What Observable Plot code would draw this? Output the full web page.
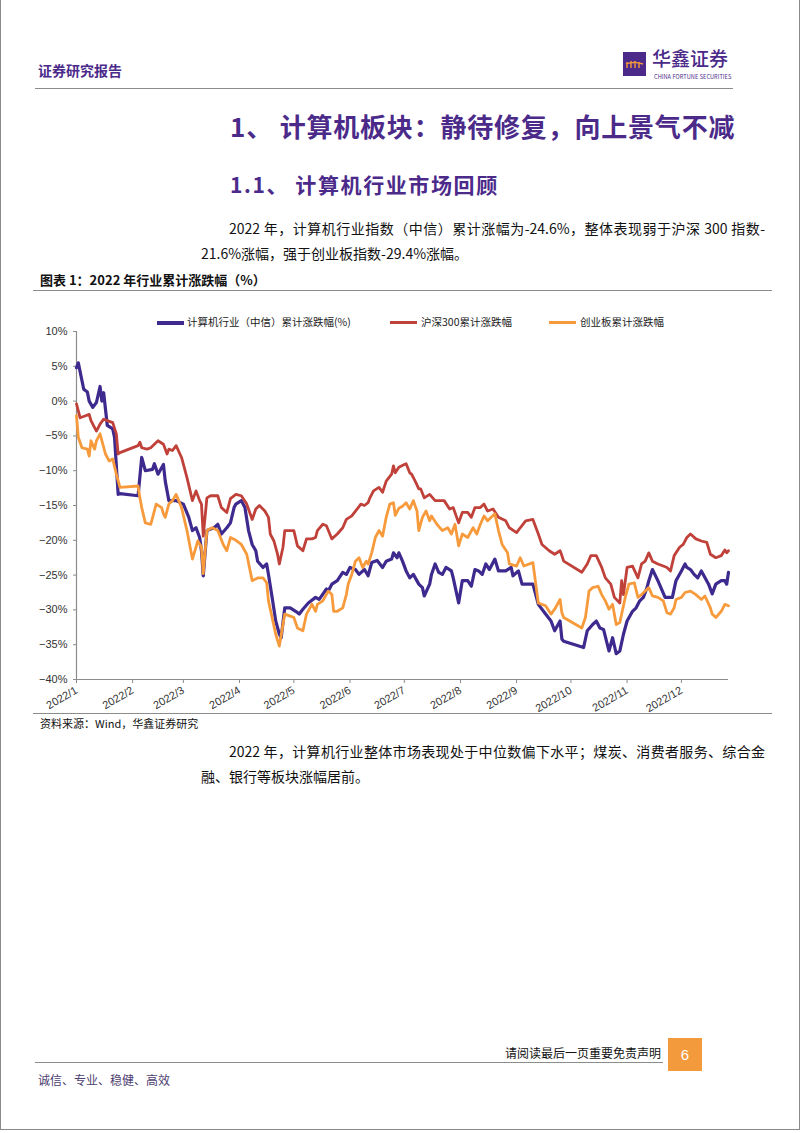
<!DOCTYPE html>
<html><head><meta charset="utf-8">
<script src="https://cdn.jsdelivr.net/npm/d3@7"></script>
<script src="https://cdn.jsdelivr.net/npm/@observablehq/plot@0.6"></script>
<style>
html,body{margin:0;padding:0;background:#fff;}
#page{position:relative;width:802px;height:1133px;overflow:hidden;font-family:"Noto Sans CJK SC","Noto Sans",sans-serif;color:#111;}
.abs{position:absolute;white-space:nowrap;}
.border{position:absolute;left:0;top:-3px;width:800px;height:1133px;border:1.5px solid #8a8a8a;box-sizing:border-box;}
.rule{position:absolute;height:0;border-top:1.5px solid #8c8c8c;}
.purple{color:#4b2a8a;}
.body14{font-size:14px;line-height:18px;}
.just{text-align:justify;text-align-last:justify;white-space:normal;}
.leg{position:absolute;top:315px;height:14px;font-size:10.5px;line-height:14px;white-space:nowrap;color:#222;}
.leg i{position:absolute;top:6px;height:3px;width:27px;}
#chart{position:absolute;left:0;top:310px;}
</style></head>
<body><div id="page">
<div class="border"></div>

<!-- header -->
<div class="abs purple" style="left:38px;top:61px;font-size:14px;line-height:18px;font-weight:700;">证券研究报告</div>
<svg class="abs" style="left:623px;top:52px;" width="23" height="24" viewBox="0 0 23 24">
  <rect width="23" height="24" fill="#4b2a8a"/>
  <path d="M4 10 L4 16 M8 9 L8 16 M12 9 L12 16 M16 10 L16 16 M3 12 Q11 9 20 12" stroke="#f39a3c" stroke-width="1.4" fill="none"/>
</svg>
<div class="abs purple" style="left:652px;top:48px;font-size:19px;line-height:20px;font-weight:500;">华鑫证券</div>
<div class="abs purple" style="left:654px;top:74px;font-size:8px;line-height:8px;transform:scale(0.7);transform-origin:0 0;letter-spacing:0.1px;">CHINA FORTUNE SECURITIES</div>
<div class="rule" style="left:35px;width:698px;top:88px;"></div>

<!-- titles -->
<div class="abs purple" style="left:230px;top:110px;font-size:26px;line-height:32px;font-weight:700;letter-spacing:0.8px;">1、&nbsp;计算机板块：静待修复，向上景气不减</div>
<div class="abs purple" style="left:230px;top:171px;font-size:21px;line-height:26px;font-weight:700;letter-spacing:1.6px;">1.1、&nbsp;计算机行业市场回顾</div>

<!-- paragraph 1 -->
<div class="abs body14 just" style="left:229px;top:219px;width:536px;">2022 年，计算机行业指数（中信）累计涨幅为-24.6%，整体表现弱于沪深 300 指数-</div>
<div class="abs body14" style="left:201px;top:244px;">21.6%涨幅，强于创业板指数-29.4%涨幅。</div>

<!-- chart title -->
<div class="abs" style="left:40px;top:272px;font-size:13px;line-height:16px;font-weight:700;">图表 1：2022 年行业累计涨跌幅（%）</div>
<div class="rule" style="left:33px;width:739px;top:290px;"></div>

<!-- legend -->
<div class="leg" style="left:157px;width:200px;"><i style="left:0;background:#3e2a8e;height:3.5px;"></i><span style="position:absolute;left:30px;">计算机行业（中信）累计涨跌幅(%)</span></div>
<div class="leg" style="left:390px;width:130px;"><i style="left:0;background:#c0403a;"></i><span style="position:absolute;left:31px;">沪深300累计涨跌幅</span></div>
<div class="leg" style="left:549px;width:130px;"><i style="left:0;background:#f79a3c;"></i><span style="position:absolute;left:31px;">创业板累计涨跌幅</span></div>

<div id="chart"></div>

<div class="rule" style="left:33px;width:739px;top:713px;"></div>
<div class="abs" style="left:40px;top:716px;font-size:11px;line-height:14px;">资料来源：Wind，华鑫证券研究</div>

<!-- paragraph 2 -->
<div class="abs body14 just" style="left:229px;top:742px;width:536px;">2022 年，计算机行业整体市场表现处于中位数偏下水平；煤炭、消费者服务、综合金</div>
<div class="abs body14" style="left:201px;top:767px;">融、银行等板块涨幅居前。</div>

<!-- footer -->
<div class="abs" style="left:505px;top:1045px;width:155px;font-size:12px;line-height:16px;text-align:right;">请阅读最后一页重要免责声明</div>
<div class="rule" style="left:35px;width:628px;top:1062px;"></div>
<div class="abs" style="left:668px;top:1038px;width:34px;height:33px;background:#f39a3c;color:#fff;font-size:15px;line-height:33px;text-align:center;font-family:'Liberation Sans',Arial,sans-serif;">6</div>
<div class="abs" style="left:38px;top:1072px;font-size:12px;line-height:16px;color:#4d4070;">诚信、专业、稳健、高效</div>
</div>

<script>
// ---- data (cumulative % change, 2022) ----
const seriesNames = ["计算机行业（中信）累计涨跌幅(%)", "沪深300累计涨跌幅", "创业板累计涨跌幅"];
const seriesColors = ["#3e2a8e", "#c0403a", "#f79a3c"];

const computerSeries = [
["01-04",4.8],["01-05",5.5],["01-08",1.7],["01-10",1.3],["01-11",0],["01-13",-0.9],["01-15",-0.2],["01-17",2.1],["01-18",0],["01-19",1.2],["01-21",-3.5],["01-24",-4],["01-25",-5.2],["01-27",-13.4],["01-28",-13.3],["02-07",-13.6],["02-09",-8.1],["02-11",-10],["02-15",-9.8],["02-16",-9],["02-18",-10.5],["02-21",-9.1],["02-22",-11.5],["02-24",-14.3],["02-28",-14.3],["03-04",-14.8],["03-07",-16.7],["03-09",-18.6],["03-11",-18.2],["03-13",-19.6],["03-14",-21.5],["03-15",-25.1],["03-17",-18.6],["03-21",-18.2],["03-23",-17.7],["03-25",-19.1],["03-28",-18.2],["03-30",-17.5],["04-01",-15.3],["04-02",-14.8],["04-05",-14.3],["04-07",-15.3],["04-09",-18.6],["04-11",-20.6],["04-13",-21.5],["04-14",-23],["04-17",-23.9],["04-19",-23.4],["04-20",-24.9],["04-22",-28.2],["04-24",-31.6],["04-26",-33.5],["04-27",-34],["04-29",-29.7],["05-02",-29.7],["05-05",-30.2],["05-07",-30.6],["05-09",-29.9],["05-12",-29],["05-16",-28.2],["05-18",-28.5],["05-22",-27],["05-23",-27.3],["05-25",-26.3],["05-28",-25.8],["05-31",-24.6],["06-02",-24.9],["06-04",-23.9],["06-07",-24.2],["06-09",-24.9],["06-12",-24.2],["06-14",-25.1],["06-16",-23.2],["06-19",-22.9],["06-22",-23.9],["06-24",-23],["06-27",-22.7],["06-28",-21.8],["06-30",-22.5],["07-01",-21.8],["07-03",-23],["07-05",-24.4],["07-07",-25.4],["07-09",-24.9],["07-12",-26.3],["07-14",-26.8],["07-15",-28],["07-18",-26.3],["07-19",-24.9],["07-21",-23.4],["07-23",-24.6],["07-25",-24.9],["07-27",-23.9],["07-30",-24.4],["07-31",-25.4],["08-03",-29],["08-05",-25.8],["08-08",-25.8],["08-10",-26.6],["08-12",-24.2],["08-14",-24.4],["08-16",-24.9],["08-18",-23.4],["08-20",-24.2],["08-23",-22.7],["08-25",-24.4],["08-29",-24.4],["09-01",-23.9],["09-02",-25.1],["09-05",-24.4],["09-07",-26.3],["09-13",-26.3],["09-16",-29.2],["09-20",-30.6],["09-23",-31.6],["09-25",-33],["09-28",-31.6],["09-29",-34.2],["09-30",-34.5],["10-11",-35.4],["10-13",-33],["10-16",-32.1],["10-18",-31.6],["10-20",-32.6],["10-22",-32.8],["10-25",-35.9],["10-27",-34],["10-29",-36.3],["10-31",-35.9],["11-02",-33.5],["11-04",-31.6],["11-07",-30.2],["11-09",-29.7],["11-11",-28.7],["11-13",-28.2],["11-15",-26.8],["11-16",-25.8],["11-18",-24.2],["11-21",-25.8],["11-25",-28.2],["11-29",-28.2],["12-01",-25.8],["12-04",-24.4],["12-06",-23.4],["12-07",-23.9],["12-09",-24.2],["12-11",-24.9],["12-13",-25.4],["12-15",-24.4],["12-19",-26.3],["12-21",-27.7],["12-23",-26.3],["12-26",-25.8],["12-28",-25.8],["12-29",-26.3],["12-30",-24.6]
];

const hs300Series = [
["01-04",-0.4],["01-06",-2.4],["01-09",-2.1],["01-11",-1.9],["01-12",-2.8],["01-15",-4.3],["01-17",-3.3],["01-19",-2.6],["01-21",-2.8],["01-24",-3.1],["01-26",-4.7],["01-27",-7.6],["01-28",-7.4],["02-07",-6.4],["02-08",-5.9],["02-09",-6.7],["02-12",-6.9],["02-14",-6.7],["02-16",-6.2],["02-18",-5.7],["02-21",-6.2],["02-23",-7.6],["02-24",-6.9],["02-26",-7.1],["02-28",-6.4],["03-03",-8.1],["03-06",-11],["03-09",-14.3],["03-11",-12.9],["03-13",-14.3],["03-14",-14.8],["03-15",-19.4],["03-17",-13.9],["03-19",-13.6],["03-23",-13.6],["03-25",-15.3],["03-28",-16],["03-30",-14],["04-02",-13.4],["04-05",-13.6],["04-08",-14.8],["04-11",-17],["04-13",-15.5],["04-15",-15],["04-18",-15.8],["04-20",-16.7],["04-21",-19.1],["04-23",-20.1],["04-25",-22],["04-26",-23.4],["04-28",-21],["04-29",-18.6],["05-04",-18.6],["05-06",-20.8],["05-09",-21.5],["05-11",-19.8],["05-14",-19.8],["05-16",-19.6],["05-17",-18.6],["05-20",-17.7],["05-22",-17.9],["05-25",-19.8],["05-28",-19.1],["05-31",-18.2],["06-02",-17],["06-05",-16.5],["06-08",-15.5],["06-10",-14.8],["06-12",-15],["06-14",-14.6],["06-15",-13.9],["06-17",-12.9],["06-20",-12.4],["06-22",-13.1],["06-24",-11.5],["06-27",-10.5],["06-28",-9.3],["06-29",-10.3],["07-01",-9.5],["07-04",-9.1],["07-05",-9],["07-07",-10.3],["07-08",-10.5],["07-10",-11.5],["07-12",-12.6],["07-13",-12.6],["07-15",-13.9],["07-18",-13.4],["07-21",-14.3],["07-26",-14.3],["07-29",-15.5],["07-31",-15.3],["08-03",-17.5],["08-05",-16],["08-08",-16],["08-10",-16.7],["08-12",-15.3],["08-15",-15.3],["08-17",-14.8],["08-19",-15.8],["08-22",-15.5],["08-25",-16.7],["08-29",-17.2],["08-31",-18.2],["09-04",-18.9],["09-06",-18.2],["09-09",-17.2],["09-13",-17],["09-16",-19.1],["09-18",-20.6],["09-22",-21.5],["09-25",-22],["09-28",-21.5],["09-29",-22.2],["09-30",-23],["10-10",-24.6],["10-13",-23.4],["10-15",-22.2],["10-18",-22.2],["10-21",-23.9],["10-23",-25.4],["10-26",-26.3],["10-28",-28.2],["10-31",-29],["11-01",-25.8],["11-02",-27.8],["11-04",-23.9],["11-07",-23.7],["11-10",-25.4],["11-12",-23.4],["11-14",-23],["11-16",-21.8],["11-18",-23],["11-21",-23.4],["11-24",-23.7],["11-26",-23.9],["11-28",-24.4],["11-30",-22.2],["12-03",-21],["12-05",-20.6],["12-07",-19.6],["12-09",-19.1],["12-12",-19.8],["12-15",-20.1],["12-18",-20.3],["12-20",-22],["12-23",-22.5],["12-26",-22.2],["12-28",-21.4],["12-29",-21.8],["12-30",-21.5]
];

const chinextSeries = [
["01-04",-2.1],["01-05",-5.2],["01-07",-6.7],["01-10",-6.9],["01-11",-7.9],["01-12",-5.7],["01-14",-6.9],["01-15",-5.7],["01-17",-4.7],["01-20",-7.6],["01-22",-8.6],["01-24",-8.3],["01-26",-10.5],["01-28",-12.4],["02-07",-12.2],["02-08",-13.9],["02-09",-15.3],["02-11",-17.5],["02-14",-17.7],["02-17",-14.8],["02-20",-15.3],["02-21",-16.2],["02-22",-16.7],["02-24",-14.8],["02-26",-14.3],["02-28",-13.4],["03-03",-15.3],["03-06",-18.6],["03-09",-22.7],["03-12",-20.1],["03-14",-21],["03-15",-24.8],["03-17",-18.6],["03-20",-18.2],["03-23",-18.6],["03-26",-20.6],["03-28",-21.5],["03-30",-19.6],["04-02",-20],["04-05",-20.6],["04-08",-22],["04-11",-25.8],["04-14",-25.4],["04-17",-25.4],["04-19",-26.1],["04-20",-28.7],["04-22",-31.1],["04-24",-33.5],["04-26",-35.2],["04-28",-32.1],["04-29",-30.6],["05-02",-30.9],["05-04",-31.1],["05-06",-32.6],["05-09",-33],["05-11",-30.6],["05-14",-29.2],["05-16",-30.2],["05-17",-29.2],["05-20",-28.7],["05-23",-27.3],["05-25",-27.8],["05-26",-30.2],["05-28",-30.2],["05-31",-29.7],["06-02",-27.8],["06-03",-26.3],["06-05",-24.9],["06-07",-23],["06-09",-22.5],["06-11",-23.9],["06-13",-23],["06-14",-23.4],["06-16",-21.8],["06-18",-19.6],["06-20",-18.6],["06-22",-19.4],["06-24",-16.7],["06-26",-14.8],["06-28",-14.6],["06-29",-16.4],["07-01",-15.4],["07-03",-15.1],["07-05",-14.6],["07-07",-15.5],["07-09",-14.3],["07-11",-15.8],["07-12",-18.6],["07-14",-16.7],["07-16",-15.8],["07-18",-17.2],["07-19",-16.5],["07-22",-17.7],["07-25",-18.6],["07-28",-18.2],["07-30",-19.1],["08-01",-17.7],["08-03",-20.8],["08-05",-19.1],["08-08",-19.6],["08-11",-18.2],["08-13",-19.1],["08-15",-17.7],["08-17",-16.5],["08-19",-17.2],["08-21",-16.7],["08-23",-16.2],["08-25",-18.6],["08-27",-20.6],["08-30",-21.8],["08-31",-23.4],["09-04",-23.7],["09-06",-22.5],["09-08",-23.7],["09-13",-23.2],["09-16",-29],["09-20",-29.4],["09-23",-30.6],["09-25",-29.9],["09-28",-28.5],["09-29",-30.4],["09-30",-31.1],["10-10",-32.6],["10-12",-31.1],["10-14",-27.3],["10-16",-26.8],["10-19",-26.6],["10-21",-27.8],["10-23",-28.7],["10-25",-29.9],["10-27",-29.2],["10-29",-32.1],["10-31",-31.8],["11-03",-28.2],["11-05",-26.3],["11-08",-26.1],["11-10",-28.2],["11-12",-27.8],["11-14",-27.3],["11-16",-26.8],["11-18",-28],["11-21",-28.2],["11-24",-28.7],["11-26",-30.4],["11-28",-30.6],["11-30",-29.7],["12-01",-28.5],["12-04",-28.2],["12-06",-27.5],["12-09",-27.3],["12-12",-27.8],["12-15",-28.5],["12-17",-28],["12-20",-29.7],["12-21",-30.6],["12-23",-31.1],["12-26",-30.2],["12-28",-29.2],["12-30",-29.4]
];

const yTicks = [10, 5, 0, -5, -10, -15, -20, -25, -30, -35, -40];
const xTickDates = ["2022-01-04","2022-02-04","2022-03-04","2022-04-04","2022-05-04","2022-06-04","2022-07-04","2022-08-04","2022-09-04","2022-10-04","2022-11-04","2022-12-04"];
const xTickLabels = ["2022/1","2022/2","2022/3","2022/4","2022/5","2022/6","2022/7","2022/8","2022/9","2022/10","2022/11","2022/12"];
const xDomain = ["2022-01-04", "2022-12-30"];

// ---- build table ----
const toDate = s => new Date(s + "T00:00:00Z");
const table = [];
[computerSeries, hs300Series, chinextSeries].forEach((arr, i) => {
  arr.forEach(([md, v]) => table.push({series: seriesNames[i], date: toDate("2022-" + md), value: v}));
});
const tickDates = xTickDates.map(toDate);
const labelOf = new Map(tickDates.map((d, i) => [+d, xTickLabels[i]]));
const axisColor = "#8c8c8c";

const chart = Plot.plot({
  width: 802,
  height: 410,
  marginLeft: 76,
  marginRight: 74,
  marginTop: 21,
  marginBottom: 41,
  style: {fontFamily: "'Liberation Sans', Arial, sans-serif", fontSize: "11px", color: "#333", background: "transparent"},
  x: {type: "utc", domain: xDomain.map(toDate)},
  y: {domain: [-40, 10]},
  color: {domain: seriesNames, range: seriesColors},
  marks: [
    Plot.axisY({ticks: yTicks, tickFormat: d => (d < 0 ? "\u2212" + (-d) : d) + "%", tickSize: 3, tickPadding: 6, stroke: axisColor, label: null, fontSize: 11}),
    Plot.axisX({ticks: tickDates, tickFormat: d => labelOf.get(+d), tickRotate: -30, tickSize: 4, tickPadding: 6, stroke: axisColor, label: null, fontSize: 11}),
    Plot.ruleX([toDate(xDomain[0])], {stroke: axisColor, strokeWidth: 1.2}),
    Plot.ruleY([-40], {stroke: axisColor, strokeWidth: 1.2}),
    Plot.line(table.filter(d => d.series === seriesNames[0]), {x: "date", y: "value", stroke: "series", strokeWidth: 3.2, strokeLinejoin: "round"}),
    Plot.line(table.filter(d => d.series === seriesNames[1]), {x: "date", y: "value", stroke: "series", strokeWidth: 2.8, strokeLinejoin: "round"}),
    Plot.line(table.filter(d => d.series === seriesNames[2]), {x: "date", y: "value", stroke: "series", strokeWidth: 2.8, strokeLinejoin: "round"})
  ]
});
document.getElementById("chart").appendChild(chart);
</script>
</body></html>
